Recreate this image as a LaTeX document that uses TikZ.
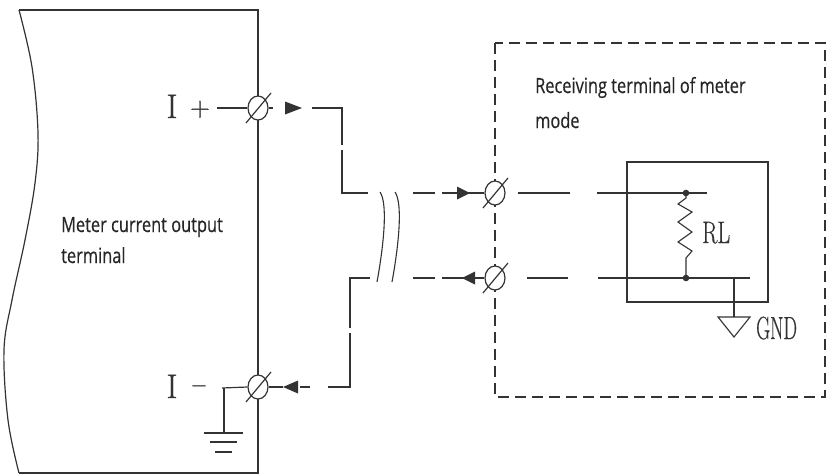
\documentclass[tikz,border=0pt]{standalone}
\usepackage{fontspec}
\usepackage{graphicx}
\newfontfamily\sansf[FakeBold=0.5]{Open Sans}
\newfontfamily\serf[FakeBold=0.6]{Latin Modern Roman}
\newfontfamily\serfb[FakeBold=1.6]{Latin Modern Roman}
\usetikzlibrary{shapes.geometric,calc}
\definecolor{ln}{HTML}{333333}
\begin{document}
\begin{tikzpicture}[x=1pt,y=-1pt,
  wire/.style={draw=ln,line width=1.2pt},
  term/.style={ellipse,draw=ln,line width=1.2pt,fill=white,minimum width=20pt,minimum height=24pt,inner sep=0pt},
  tip/.style={fill=ln},
  sanslbl/.style={font=\sansf\fontsize{21}{21}\selectfont,text=black!85,inner sep=0pt,anchor=base west},
  biglbl/.style={font=\serf\fontsize{34}{34}\selectfont,text=ln,inner sep=0pt,anchor=base},
  pmlbl/.style={font=\serfb\fontsize{27}{27}\selectfont,text=ln,inner sep=0pt,anchor=base},
  rlbl/.style={font=\serf\fontsize{31}{31}\selectfont,text=ln,inner sep=0pt,anchor=base west}]
\useasboundingbox (0,0) rectangle (828,475);
\fill[white] (0,0) rectangle (828,475);

% left block (meter)
\draw[wire] plot[smooth,tension=0.6] coordinates {(19,10) (32,67) (38,133) (35,183) (25,240) (12,300) (4,350) (8,420) (19,473)};
\draw[wire] (19,10) -- (258,10) -- (258,473) -- (19,473);

% receiving dashed box and inner box
\draw[wire,dash pattern=on 11pt off 6pt] (495,43) rectangle (825,397);
\draw[wire] (627,162) rectangle (768,302);

% terminals
\node[term] (t1) at (258,108) {};
\node[term] (t2) at (258,387) {};
\node[term] (r1) at (495,193) {};
\node[term] (r2) at (495,278) {};
\foreach \n in {t1,t2,r1,r2}
  \draw[wire] ($(\n.center)+(-12,15)$) -- ($(\n.center)+(13,-15)$);

% labels on meter side
\node[biglbl] (ip) at (172,118) {I};
\node[pmlbl] (plus) at (200,116) {+};
\node[biglbl] (im) at (172,398) {I};
\node[pmlbl] (minus) at (199,393) {–};
\node[sanslbl] (mx1) at (61,232) {\scalebox{0.78}[1]{Meter current output}};
\node[sanslbl] (mx2) at (61,263) {\scalebox{0.78}[1]{terminal}};
\node[sanslbl] (rx1) at (535,93) {\scalebox{0.78}[1]{Receiving terminal of meter}};
\node[sanslbl] (rx2) at (535,128) {\scalebox{0.78}[1]{mode}};

% short wires to meter terminals
\coordinate (pin) at (217,108);
\coordinate (min) at (222,388);
\draw[wire] (pin) -- (t1.west);
\draw[wire] (min) -- (t2.west);
\coordinate (g1) at (224,388);
\coordinate (g1b) at (224,433);
\draw[wire] (g1) -- (g1b);
\draw[wire,line width=1.7pt] (204,433) -- (243,433);
\draw[wire,line width=1.7pt] (210,442) -- (237,442);
\draw[wire,line width=1.7pt] (215,452) -- (232,452);

% upper connector t1 -> r1
\draw[wire] (t1.east) -- (273,108);
\fill[tip] (285,101.5) -- (302,108) -- (285,114.5) -- cycle;
\draw[wire] (312,108) -- (342,108) -- (342,145);
\draw[wire] (342,150) -- (342,193) -- (368,193);
\draw[wire] (413,193) -- (435,193);
\draw[wire] (442,193) -- (r1.west);
\fill[tip] (457,186.5) -- (470,193) -- (457,199.5) -- cycle;

% lower connector r2 -> t2
\draw[wire] (r2.west) -- (442,278);
\fill[tip] (475,271.5) -- (462,278) -- (475,284.5) -- cycle;
\draw[wire] (435,278) -- (413,278);
\draw[wire] (370,278) -- (350,278) -- (350,328);
\draw[wire] (350,333) -- (350,387) -- (328,387);
\draw[wire] (310,387) -- (300,387);
\fill[tip] (298,380.5) -- (283,387) -- (298,393.5) -- cycle;
\draw[wire] (283,387) -- (t2.east);

% cable break symbol
\draw[wire,line width=1.1pt] (380,192) .. controls (389,205) and (382,255) .. (377,282);
\draw[wire,line width=1.1pt] (395,192) .. controls (404,205) and (397,255) .. (392,282);

% receiver internals
\draw[wire] (518,193) -- (570,193);
\draw[wire] (597,193) -- (707,193);
\draw[wire] (527,278) -- (568,278);
\draw[wire] (598,278) -- (750,278);
\coordinate (d1) at (686,193);
\coordinate (d2) at (686,278);
\fill[ln] (d1) circle (3.3);
\fill[ln] (d2) circle (3.3);
\draw[wire,line width=1.1pt] (d1) -- (686,198) -- (678,204) -- (692,212) -- (678,222) -- (692,232) -- (678,242) -- (692,251) -- (686,258) -- (d2);
\node[rlbl] (rl) at (702,243) {\scalebox{0.72}[1]{RL}};

% GND
\coordinate (g2) at (734,278);
\coordinate (g2b) at (734,317);
\draw[wire] (g2) -- (g2b);
\draw[wire,line width=1.1pt] (718,317) -- (750,317) -- (734,337) -- cycle;
\node[rlbl,font=\serf\fontsize{32}{32}\selectfont] (gnd) at (756,339) {\scalebox{0.6}[1]{GND}};
\end{tikzpicture}
\end{document}
